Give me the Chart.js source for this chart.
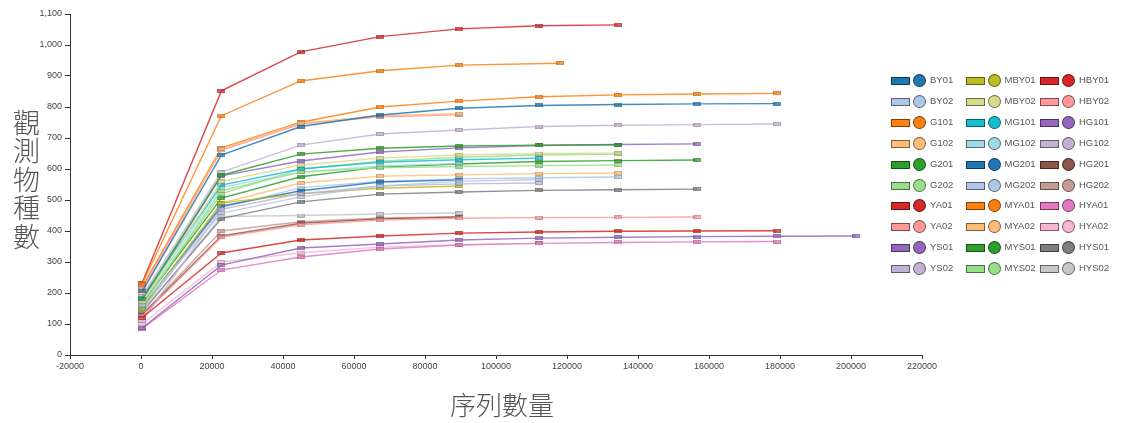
<!DOCTYPE html>
<html>
<head>
<meta charset="utf-8">
<script src="https://cdn.jsdelivr.net/npm/chart.js@4.4.1/dist/chart.umd.min.js"></script>
<style>
  body { margin: 0; background: #fff; }
  #wrap { position: relative; width: 1125px; height: 423px; overflow: hidden; }
  #chart { position: absolute; left: 0; top: 0; }
  .ytitle {
    position: absolute; left: 7px; top: 109px;
    writing-mode: vertical-rl; font-family: "Noto Sans CJK TC", sans-serif;
    font-size: 27px; font-weight: 300; letter-spacing: 1.5px; color: #555;
  }
  .xtitle {
    position: absolute; left: 450px; top: 385px;
    font-family: "Noto Sans CJK TC", sans-serif;
    font-size: 26px; font-weight: 300; color: #555;
  }
  .item { position: absolute; height: 14px; }
  .item .bar {
    position: absolute; left: 0; top: 3px; width: 17px; height: 6px;
    border: 1px solid rgba(0,0,0,0.5);
  }
  .item .dot {
    position: absolute; left: 22px; top: 0px; width: 11px; height: 11px;
    border-radius: 50%; border: 1px solid rgba(0,0,0,0.5);
  }
  .item .lbl {
    position: absolute; left: 39px; top: -1px;
    font-family: "Liberation Sans", Arial, sans-serif; font-size: 9.5px; color: #555;
    white-space: nowrap; line-height: 14px;
  }
</style>
</head>
<body>
<div id="wrap">
  <canvas id="chart" width="1125" height="423"></canvas>
  <div class="ytitle">觀測物種數</div>
  <div class="xtitle">序列數量</div>
  <div id="legend"></div>
</div>
<script>
// profondeurs de rarefaction communes
const depthSteps = [300, 22650, 45000, 67350, 89700, 112050, 134400, 156750, 179100, 201450];

// noms des echantillons (ordre de la legende)
const samples = ['BY01', 'BY02', 'G101', 'G102', 'G201', 'G202', 'YA01', 'YA02', 'YS01', 'YS02',
                 'MBY01', 'MBY02', 'MG101', 'MG102', 'MG201', 'MG202', 'MYA01', 'MYA02', 'MYS01', 'MYS02',
                 'HBY01', 'HBY02', 'HG101', 'HG102', 'HG201', 'HG202', 'HYA01', 'HYA02', 'HYS01', 'HYS02'];

const colors = ['#1f77b4', '#aec7e8', '#ff7f0e', '#ffbb78', '#2ca02c', '#98df8a', '#d62728', '#ff9896', '#9467bd', '#c5b0d5',
                '#bcbd22', '#dbdb8d', '#17becf', '#9edae5', '#1f77b4', '#aec7e8', '#ff7f0e', '#ffbb78', '#2ca02c', '#98df8a',
                '#d62728', '#ff9896', '#9467bd', '#c5b0d5', '#8c564b', '#c49c94', '#e377c2', '#f7b6d2', '#7f7f7f', '#c7c7c7'];

// profondeur finale de chaque echantillon
const endDepth = [179100, 112050, 118000, 89700, 134400, 134400, 179100, 89700, 201450, 112050,
                  89700, 134400, 112050, 89700, 89700, 134400, 179100, 134400, 156750, 134400,
                  134400, 156750, 156750, 179100, 89700, 89700, 179100, 112050, 156750, 89700];

// especes observees
const BY01  = [205, 645, 737, 774, 796, 805, 808, 810, 811];
const BY02  = [160, 458, 510, 545, 560, 566];
const G101  = [228, 772, 884, 917, 935, 941];
const G102  = [200, 665, 748, 772, 778];
const G201  = [180, 580, 648, 667, 674, 677, 678];
const G202  = [160, 530, 590, 604, 608, 611, 613];
const YA01  = [120, 329, 371, 384, 393, 397, 399, 400, 401];
const YA02  = [215, 660, 745, 768, 775];
const YS01  = [87, 290, 345, 358, 371, 377, 380, 382, 383, 384];
const YS02  = [110, 470, 520, 545, 552, 555];
const MBY01 = [150, 490, 520, 538, 545];
const MBY02 = [170, 560, 613, 635, 645, 650, 651];
const MG101 = [185, 548, 600, 622, 630, 635];
const MG102 = [170, 541, 590, 610, 618];
const MG201 = [155, 480, 530, 558, 565];
const MG202 = [145, 475, 540, 560, 568, 572, 574];
const MYA01 = [220, 668, 751, 800, 819, 833, 839, 842, 844];
const MYA02 = [150, 490, 555, 577, 581, 585, 587];
const MYS01 = [165, 506, 575, 606, 616, 624, 627, 629];
const MYS02 = [165, 520, 600, 625, 638, 645, 648];
const HBY01 = [232, 852, 978, 1027, 1052, 1062, 1065];
const HBY02 = [125, 380, 420, 435, 441, 443, 444, 445];
const HG101 = [175, 578, 626, 655, 668, 676, 679, 681];
const HG102 = [190, 590, 677, 713, 726, 737, 741, 743, 745];
const HG201 = [130, 384, 425, 439, 445];
const HG202 = [130, 400, 430, 442, 446];
const HYA01 = [85, 274, 316, 342, 355, 360, 363, 365, 366];
const HYA02 = [100, 300, 330, 348, 356, 360];
const HYS01 = [140, 440, 494, 519, 526, 531, 533, 535];
const HYS02 = [135, 447, 450, 455, 458];

const seriesValues = [BY01, BY02, G101, G102, G201, G202, YA01, YA02, YS01, YS02,
                      MBY01, MBY02, MG101, MG102, MG201, MG202, MYA01, MYA02, MYS01, MYS02,
                      HBY01, HBY02, HG101, HG102, HG201, HG202, HYA01, HYA02, HYS01, HYS02];

// petit marqueur rectangulaire, un peu transparent
function makeMarker(color) {
    const c = document.createElement('canvas');
    c.width = 8; c.height = 4;
    const g = c.getContext('2d');
    g.globalAlpha = 0.7;
    g.fillStyle = color;
    g.fillRect(0, 0, 8, 4);
    g.globalAlpha = 0.25;
    g.strokeStyle = '#333';
    g.strokeRect(0.5, 0.5, 7, 3);
    return c;
}

function withAlpha(hex, a) {
    const n = parseInt(hex.slice(1), 16);
    return 'rgba(' + (n >> 16) + ',' + ((n >> 8) & 255) + ',' + (n & 255) + ',' + a + ')';
}

const datasets = samples.map((name, i) => {
    const vals = seriesValues[i];
    const pts = vals.map((v, k) => ({
        x: k === vals.length - 1 ? endDepth[i] : depthSteps[k],
        y: v
    }));
    return {
        label: name,
        data: pts,
        borderColor: withAlpha(colors[i], 0.85),
        backgroundColor: colors[i],
        borderWidth: 1.4,
        pointStyle: makeMarker(colors[i]),
        pointRadius: 4,
        tension: 0
    };
});

const tickFont = { family: 'Liberation Sans', size: 9 };

new Chart(document.getElementById('chart').getContext('2d'), {
    type: 'line',
    data: { datasets: datasets },
    options: {
        responsive: false,
        animation: false,
        devicePixelRatio: 1,
        layout: { padding: { left: 0, top: 14, right: 203, bottom: 0 } },
        plugins: { legend: { display: false }, tooltip: { enabled: false } },
        scales: {
            x: {
                type: 'linear',
                min: -20000, max: 220000,
                afterFit: s => { s.height = 68; },
                ticks: { stepSize: 20000, color: '#444', font: tickFont, padding: 2,
                         maxRotation: 0, callback: v => String(v) },
                grid: { drawOnChartArea: false, drawTicks: true, tickLength: 4, color: '#333' },
                border: { display: true, color: '#333', width: 1 }
            },
            y: {
                min: 0, max: 1100,
                afterFit: s => { s.width = 70; },
                ticks: { stepSize: 100, color: '#444', font: tickFont, padding: 3 },
                grid: { drawOnChartArea: false, drawTicks: true, tickLength: 5, color: '#333' },
                border: { display: true, color: '#333', width: 1 }
            }
        }
    }
});

// legende HTML : 3 colonnes de 10
const legend = document.getElementById('legend');
samples.forEach((name, i) => {
    const col = Math.floor(i / 10), row = i % 10;
    const it = document.createElement('div');
    it.className = 'item';
    it.style.left = (891 + col * 74.5) + 'px';
    it.style.top = (74 + row * 20.9) + 'px';
    it.innerHTML = '<div class="bar" style="background:' + colors[i] + '"></div>' +
                   '<div class="dot" style="background:' + colors[i] + '"></div>' +
                   '<div class="lbl">' + name + '</div>';
    legend.appendChild(it);
});
</script>
</body>
</html>
